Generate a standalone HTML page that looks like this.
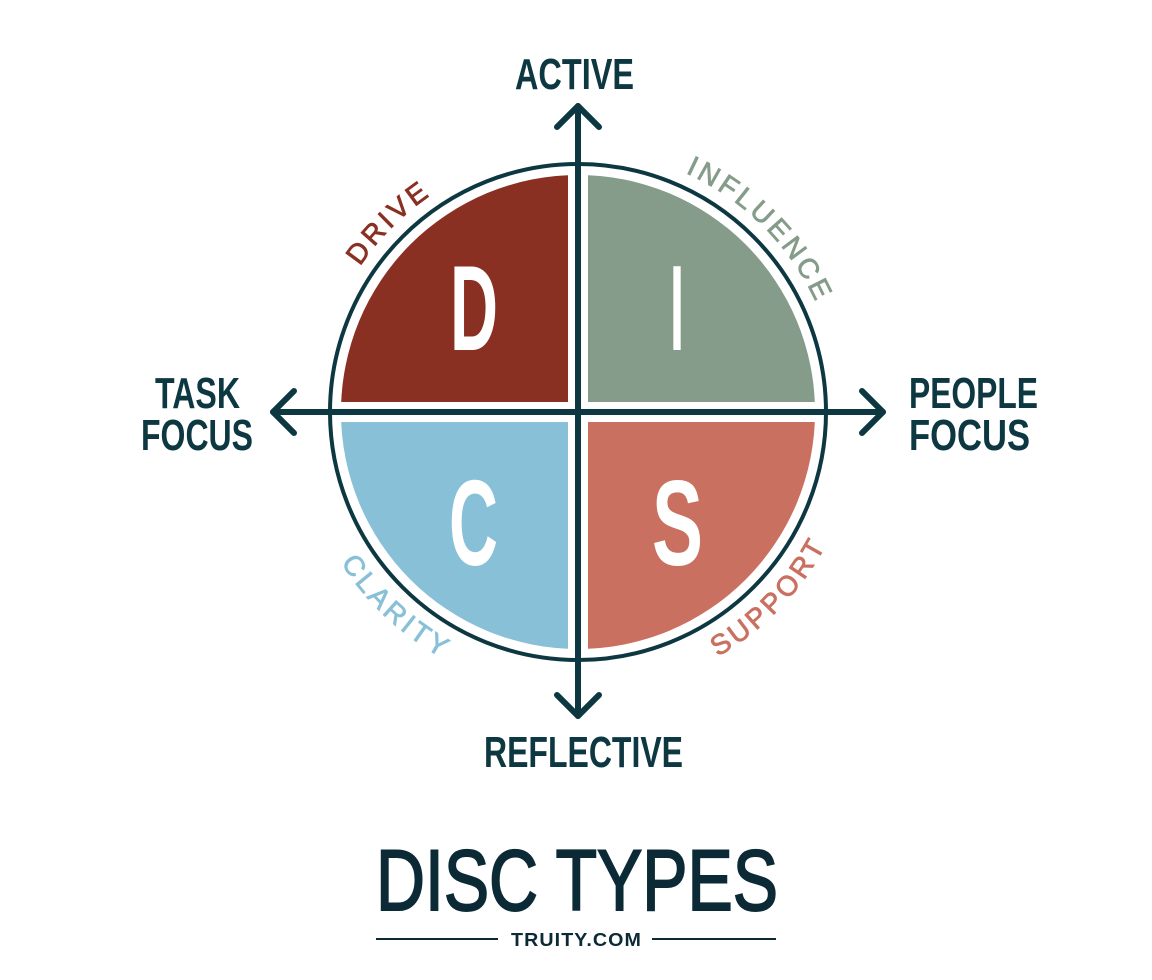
<!DOCTYPE html>
<html><head><meta charset="utf-8"><style>
html,body{margin:0;padding:0;background:#fff;}
svg{display:block;}
text{font-family:"Liberation Sans",sans-serif;}
</style></head><body>
<svg width="1152" height="980" viewBox="0 0 1152 980" xmlns="http://www.w3.org/2000/svg">
<defs>
<clipPath id="cD"><rect x="0" y="0" width="568" height="402"/></clipPath>
<clipPath id="cI"><rect x="588" y="0" width="600" height="402"/></clipPath>
<clipPath id="cC"><rect x="0" y="422" width="568" height="600"/></clipPath>
<clipPath id="cS"><rect x="588" y="422" width="600" height="600"/></clipPath>
<path id="pD" d="M317,389.2 A262,262 0 0 1 555.2,151"/>
<path id="pI" d="M600.8,151 A262,262 0 0 1 839,389.2"/>
<path id="pC" d="M299.1,446.2 A281,281 0 0 0 563.3,692.6"/>
<path id="pS" d="M607.4,692.5 A281,281 0 0 0 858.3,431.6"/>
</defs>
<g>
<circle cx="578" cy="412" r="237" fill="#8a3022" clip-path="url(#cD)"/>
<circle cx="578" cy="412" r="237" fill="#869c8a" clip-path="url(#cI)"/>
<circle cx="578" cy="412" r="237" fill="#88c0d8" clip-path="url(#cC)"/>
<circle cx="578" cy="412" r="237" fill="#c97060" clip-path="url(#cS)"/>
</g>
<circle cx="578" cy="412" r="248" fill="none" stroke="#0d3842" stroke-width="4"/>
<g stroke="#0d3842" stroke-width="6" fill="none" stroke-linecap="round" stroke-linejoin="round">
<line x1="578" y1="106" x2="578" y2="716"/>
<line x1="273" y1="412" x2="883" y2="412"/>
<polyline points="557,127 578,106 599,127"/>
<polyline points="557,695 578,716 599,695"/>
<polyline points="294,391 273,412 294,433"/>
<polyline points="862,391 883,412 862,433"/>
</g>
<g fill="#fff" font-weight="bold" font-size="122">
<text x="450" y="350" textLength="48" lengthAdjust="spacingAndGlyphs">D</text>
<text x="670" y="350" textLength="14" lengthAdjust="spacingAndGlyphs">I</text>
<text x="449" y="565" textLength="49" lengthAdjust="spacingAndGlyphs">C</text>
<text x="652" y="565" textLength="51" lengthAdjust="spacingAndGlyphs">S</text>
</g>
<g font-size="28" letter-spacing="3.5" stroke-width="0.8">
<text fill="#8a3022" stroke="#8a3022"><textPath href="#pD" startOffset="50%" text-anchor="middle">DRIVE</textPath></text>
<text fill="#869c8a" stroke="#869c8a"><textPath href="#pI" startOffset="50%" text-anchor="middle">INFLUENCE</textPath></text>
<text fill="#88c0d8" stroke="#88c0d8"><textPath href="#pC" startOffset="50%" text-anchor="middle">CLARITY</textPath></text>
<text fill="#c97060" stroke="#c97060"><textPath href="#pS" startOffset="50%" text-anchor="middle">SUPPORT</textPath></text>
</g>
<g fill="#0d3842" font-weight="bold" font-size="44">
<text x="515" y="89" textLength="119" lengthAdjust="spacingAndGlyphs">ACTIVE</text>
<text x="155" y="408" textLength="85" lengthAdjust="spacingAndGlyphs">TASK</text>
<text x="141" y="450" textLength="112" lengthAdjust="spacingAndGlyphs">FOCUS</text>
<text x="909" y="408" textLength="129" lengthAdjust="spacingAndGlyphs">PEOPLE</text>
<text x="909" y="450" textLength="121" lengthAdjust="spacingAndGlyphs">FOCUS</text>
<text x="484" y="767" textLength="199" lengthAdjust="spacingAndGlyphs">REFLECTIVE</text>
</g>
<text x="376" y="910" font-size="86" fill="#0b2a35" stroke="#0b2a35" stroke-width="2" textLength="402" lengthAdjust="spacingAndGlyphs">DISC TYPES</text>
<text x="511" y="946" font-size="18" font-weight="bold" fill="#0b2a35" letter-spacing="1" textLength="131" lengthAdjust="spacingAndGlyphs">TRUITY.COM</text>
<line x1="376" y1="939" x2="498" y2="939" stroke="#0b2a35" stroke-width="2"/>
<line x1="652" y1="939" x2="776" y2="939" stroke="#0b2a35" stroke-width="2"/>
</svg>
</body></html>
